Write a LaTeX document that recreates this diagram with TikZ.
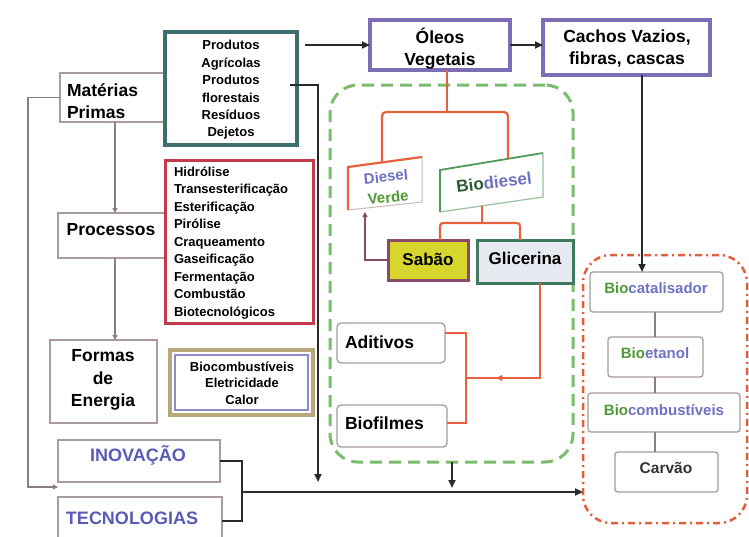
\documentclass[tikz,border=0pt]{standalone}
\usepackage{fontspec}
\setmainfont{Liberation Sans}
\usetikzlibrary{arrows.meta,calc,decorations.markings}
\definecolor{boxgray}{HTML}{A89C9C}
\definecolor{darkline}{HTML}{2A2A2A}
\definecolor{linegray}{HTML}{8A7E7E}
\definecolor{tealb}{HTML}{3E6E6E}
\definecolor{purpb}{HTML}{7C6DB4}
\definecolor{redb}{HTML}{C23A4C}
\definecolor{tanb}{HTML}{B8A878}
\definecolor{purpin}{HTML}{8E88CC}
\definecolor{orangel}{HTML}{E8603C}
\definecolor{greend}{HTML}{78BC6C}
\definecolor{redd}{HTML}{E0603C}
\definecolor{sabfill}{HTML}{D6D62C}
\definecolor{sabb}{HTML}{8A4A6A}
\definecolor{glicfill}{HTML}{E8EAF2}
\definecolor{glicb}{HTML}{3F7A5E}
\definecolor{txtblue}{HTML}{5A5AB8}
\definecolor{txtpurp}{HTML}{7070C4}
\definecolor{txtgreen}{HTML}{4E9A34}
\definecolor{txtdgreen}{HTML}{2F5A2F}
\definecolor{bdgreen}{HTML}{4E9A5A}
\newcommand{\myfs}[2]{\fontsize{#1}{#2}\selectfont}
\begin{document}
\begin{tikzpicture}[x=1pt,y=-1pt,
  every node/.style={inner sep=0pt, outer sep=0pt},
  gbox/.style={draw=boxgray, line width=1.3pt, fill=white},
  lbl/.style={align=center, text=black},
  big/.style={font=\bfseries\myfs{17.5}{22}},
  small/.style={font=\bfseries\myfs{13}{17.4}},
  dk/.style={draw=darkline, line width=2.3pt},
  thinl/.style={draw=linegray, line width=1.4pt},
  org/.style={draw=orangel, line width=2.2pt},
  tip/.style={-{Triangle[length=8pt,width=7pt]}},
  smtip/.style={-{Triangle[length=5pt,width=5pt]}}]
\useasboundingbox[fill=white] (0,0) rectangle (749,536);

% background dashed groups
\node[draw=greend, line width=3pt, dash pattern=on 12pt off 7pt, rounded corners=28pt,
      minimum width=243pt, minimum height=377pt] (gbox) at (451.5,273.5) {};
\node[draw=redd, line width=2.5pt, dash pattern=on 7pt off 4pt on 2pt off 4pt, rounded corners=28pt,
      minimum width=164pt, minimum height=268pt] (rbox) at (665,389) {};

% left column boxes
\node[gbox, minimum width=105pt, minimum height=49pt] (mp) at (112.5,97.5) {};
\node[lbl, big, align=left, anchor=west] (mpt) at (67,101) {Matérias\\Primas};
\node[draw=tealb, line width=4pt, fill=white, minimum width=132pt, minimum height=113pt] (prod) at (231,88.5) {};
\node[lbl, small] (prodt) at (231,90) {Produtos\\Agrícolas\\Produtos\\florestais\\Resíduos\\Dejetos};

\node[gbox, minimum width=107pt, minimum height=45pt] (proc) at (111.5,235.5) {};
\node[lbl, big] (proct) at (111,230) {Processos};
\node[draw=redb, line width=3pt, fill=white, minimum width=148pt, minimum height=163pt] (procl) at (239,241.5) {};
\node[lbl, font=\bfseries\myfs{13}{17.5}, align=left, anchor=west] (proclt) at (174,243) {Hidrólise\\Transesterificação\\Esterificação\\Pirólise\\Craqueamento\\Gaseificação\\Fermentação\\Combustão\\Biotecnológicos};

\node[gbox, minimum width=107pt, minimum height=83pt] (formas) at (103.5,381.5) {};
\node[lbl, font=\bfseries\myfs{17.5}{22.5}] (formast) at (103,380) {Formas\\de\\Energia};
\node[draw=tanb, line width=4pt, fill=white, minimum width=143pt, minimum height=65pt] (bioc) at (241.5,382.5) {};
\draw[draw=purpin, line width=1.2pt] ($(bioc.north west)+(5,5)$) rectangle ($(bioc.south east)+(-5,-5)$);
\node[lbl, font=\bfseries\myfs{13}{16.5}] (biocl) at (242,383) {Biocombustíveis\\Eletricidade\\Calor};

\node[gbox, minimum width=162pt, minimum height=42pt] (inov) at (139,461) {};
\node[lbl, font=\bfseries\myfs{18}{22}, text=txtblue] (inovt) at (138,455) {INOVAÇÃO};
\node[gbox, minimum width=164pt, minimum height=48pt] (tecn) at (140,521) {};
\node[lbl, font=\bfseries\myfs{18}{22}, text=txtblue] (tecnt) at (132,518) {TECNOLOGIAS};

% top boxes
\node[draw=purpb, line width=3.5pt, fill=white, minimum width=140pt, minimum height=50pt] (oleos) at (440,45) {};
\node[lbl, big] (oleost) at (440,49) {Óleos\\Vegetais};
\node[draw=purpb, line width=3.5pt, fill=white, minimum width=167pt, minimum height=55pt] (cachos) at (626.5,47.5) {};
\node[lbl, big] (cachost) at (627,49) {Cachos Vazios,\\fibras, cascas};

% Diesel Verde and Biodiesel (skewed)
\coordinate (dvtl) at (348,167); \coordinate (dvtr) at (422,157);
\coordinate (dvbr) at (422,202); \coordinate (dvbl) at (348,210);
\draw[draw=boxgray!70, line width=1pt] (dvtr) -- (dvbr) -- (dvbl);
\draw[org] (dvbl) -- (dvtl) -- (dvtr);
\node[lbl, font=\bfseries\myfs{15}{21}, rotate=6] (dvt) at (387,187) {\textcolor{txtpurp}{Diesel}\\\textcolor{txtgreen}{Verde}};
\coordinate (bdtl) at (440,170); \coordinate (bdtr) at (543,153);
\coordinate (bdbr) at (543,197); \coordinate (bdbl) at (440,212);
\draw[draw=bdgreen, line width=1.8pt] (bdbl) -- (bdtl) -- (bdtr);
\draw[draw=bdgreen!60, line width=1.2pt] (bdtr) -- (bdbr) -- (bdbl);
\node[lbl, font=\bfseries\myfs{17}{22}, rotate=7] (bdt) at (494,182) {\textcolor{txtdgreen}{Bio}\textcolor{txtpurp}{diesel}};

\node[draw=sabb, line width=3pt, fill=sabfill, minimum width=80pt, minimum height=40pt] (sabao) at (428,260) {};
\node[lbl, font=\bfseries\myfs{17}{22}] (sabaot) at (428,259) {Sabão};
\node[draw=glicb, line width=3pt, fill=glicfill, minimum width=96pt, minimum height=43pt] (glic) at (525,261.5) {};
\node[lbl, font=\bfseries\myfs{17}{22}] (glict) at (525,258) {Glicerina};

\node[gbox, rounded corners=4pt, minimum width=108pt, minimum height=40pt] (adit) at (391,343) {};
\node[lbl, big, anchor=west] (aditt) at (345,342) {Aditivos};
\node[gbox, rounded corners=4pt, minimum width=110pt, minimum height=42pt] (biof) at (392,426) {};
\node[lbl, big, anchor=west] (bioft) at (345,423) {Biofilmes};

% right column
\node[gbox, rounded corners=3pt, minimum width=133pt, minimum height=40pt] (bcat) at (656.5,292) {};
\node[lbl, font=\bfseries\myfs{15}{20}] (bcatt) at (656,288) {\textcolor{txtgreen}{Bio}\textcolor{txtpurp}{catalisador}};
\node[gbox, rounded corners=3pt, minimum width=95pt, minimum height=40pt] (bet) at (655.5,357) {};
\node[lbl, font=\bfseries\myfs{15}{20}] (bett) at (655,353) {\textcolor{txtgreen}{Bio}\textcolor{txtpurp}{etanol}};
\node[gbox, rounded corners=3pt, minimum width=152pt, minimum height=39pt] (bcomb) at (664,412.5) {};
\node[lbl, font=\bfseries\myfs{15}{20}] (bcombt) at (664,410) {\textcolor{txtgreen}{Bio}\textcolor{txtpurp}{combustíveis}};
\node[gbox, rounded corners=3pt, minimum width=103pt, minimum height=40pt] (carv) at (666.5,472) {};
\node[lbl, font=\bfseries\myfs{15.5}{20}, text=black!80] (carvt) at (666,468) {Carvão};

% connectors
\draw[dk, tip] ($(prod.east|-oleos.west)+(8,0)$) -- (oleos.west);
\draw[dk, tip] (oleos.east) -- (oleos.east -| cachos.west);
\coordinate (pdown) at (318,482);
\draw[dk, tip] ($(prod.east)+(-7,-3.5)$) -| (pdown);
\draw[thinl, smtip] ([xshift=2.5pt]mp.south) -- ([xshift=2.5pt]mp.south |- proc.north);
\draw[thinl, smtip] (proc.south -| 115,0) -- (formas.north -| 115,0);
\coordinate (lcorner) at (28,487);
\draw[thinl, smtip] (mp.west) -| (lcorner) -- (lcorner -| inov.west);
\coordinate (brk) at (242,492);
\draw[dk] (inov.east) -| (brk) |- (tecn.east);
\draw[dk, line width=2.6pt, tip] (brk) -- (brk -| rbox.west);
\draw[dk, tip] (gbox.south -| 452,0) -- (452,488);
\draw[dk, tip] (cachos.south -| 642,0) -- (bcat.north -| 642,0);
\draw[thinl] (bcat.south -| 655,0) -- (bet.north -| 655,0);
\draw[thinl] (bet.south -| 655,0) -- (bcomb.north -| 655,0);
\draw[thinl] (bcomb.south -| 655,0) -- (carv.north -| 655,0);

% orange tree
\coordinate (dvtop) at (382,162.4);
\coordinate (bdtop) at (508,158.8);
\coordinate (oj) at (447,112);
\draw[org, rounded corners=4pt] (dvtop) |- (oj) -| (bdtop);
\draw[org] (oleos.south -| oj) -- (oj);
\coordinate (bdbot) at (482,205.9);
\coordinate (bj) at (482,223);
\draw[org] (bdbot) -- (bj);
\draw[org, rounded corners=3pt] (sabao.north -| 440,0) |- (bj) -| (glic.north -| 520,0);
\coordinate (dvbot) at (365,212);
\draw[draw=sabb, line width=2.2pt, smtip] (sabao.west) -| (dvbot);
\coordinate (brk2) at (466,378);
\draw[org, postaction={decorate}, decoration={markings, mark=at position 0.82 with {\arrow{Triangle[length=6pt,width=6pt]}}}]
  (glic.south -| 540,0) |- (brk2);
\draw[org] ($(adit.east)+(0,-10)$) -| (brk2) |- ($(biof.east)+(0,-3)$);
\end{tikzpicture}
\end{document}
